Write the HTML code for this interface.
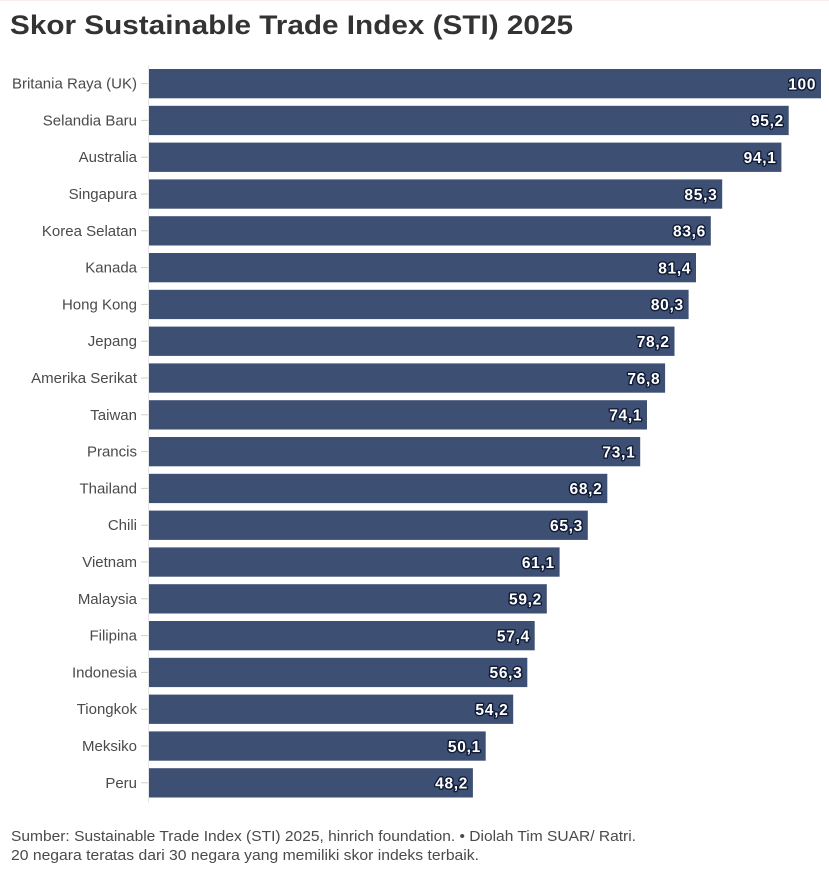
<!DOCTYPE html>
<html>
<head>
<meta charset="utf-8">
<style>
  html, body { margin:0; padding:0; background:#ffffff; }
  svg { display:block; }
  .cat { font-family:"Liberation Sans", sans-serif; font-size:15px; fill:#4a4a4a; text-anchor:end; }
  .val { font-family:"Liberation Sans", sans-serif; font-size:15.5px; font-weight:bold; letter-spacing:0.7px; fill:#ffffff; text-anchor:end; stroke:#101b36; stroke-width:2.8px; paint-order:stroke; stroke-linejoin:round; }
  .bar { fill:#3e4f74; }
  .tick { stroke:#d0d0d0; stroke-width:1; }
</style>
</head>
<body>
<svg width="829" height="871" viewBox="0 0 829 871" xmlns="http://www.w3.org/2000/svg">
  <rect x="0" y="0" width="829" height="871" fill="#ffffff"/>
  <rect x="0" y="0" width="829" height="1" fill="#fbeeec"/>
  <text x="10" y="34" font-family="Liberation Sans, sans-serif" font-size="27" font-weight="bold" fill="#333333" textLength="563" lengthAdjust="spacingAndGlyphs">Skor Sustainable Trade Index (STI) 2025</text>

  <line x1="148.5" y1="65" x2="148.5" y2="803" stroke="#e6e6e6" stroke-width="1"/>

  <!-- bars -->
  <rect class="bar" x="149" y="69.0" width="672" height="29.3"/>
  <rect class="bar" x="149" y="105.8" width="639.7" height="29.3"/>
  <rect class="bar" x="149" y="142.6" width="632.4" height="29.3"/>
  <rect class="bar" x="149" y="179.4" width="573.2" height="29.3"/>
  <rect class="bar" x="149" y="216.2" width="561.8" height="29.3"/>
  <rect class="bar" x="149" y="253.0" width="547" height="29.3"/>
  <rect class="bar" x="149" y="289.8" width="539.6" height="29.3"/>
  <rect class="bar" x="149" y="326.6" width="525.5" height="29.3"/>
  <rect class="bar" x="149" y="363.4" width="516.1" height="29.3"/>
  <rect class="bar" x="149" y="400.2" width="498" height="29.3"/>
  <rect class="bar" x="149" y="437.0" width="491.2" height="29.3"/>
  <rect class="bar" x="149" y="473.8" width="458.3" height="29.3"/>
  <rect class="bar" x="149" y="510.6" width="438.8" height="29.3"/>
  <rect class="bar" x="149" y="547.4" width="410.6" height="29.3"/>
  <rect class="bar" x="149" y="584.2" width="397.8" height="29.3"/>
  <rect class="bar" x="149" y="621.0" width="385.7" height="29.3"/>
  <rect class="bar" x="149" y="657.8" width="378.3" height="29.3"/>
  <rect class="bar" x="149" y="694.6" width="364.2" height="29.3"/>
  <rect class="bar" x="149" y="731.4" width="336.7" height="29.3"/>
  <rect class="bar" x="149" y="768.2" width="323.9" height="29.3"/>

  <!-- ticks -->
  <line class="tick" x1="141" x2="148" y1="83.6" y2="83.6"/>
  <line class="tick" x1="141" x2="148" y1="120.4" y2="120.4"/>
  <line class="tick" x1="141" x2="148" y1="157.2" y2="157.2"/>
  <line class="tick" x1="141" x2="148" y1="194.0" y2="194.0"/>
  <line class="tick" x1="141" x2="148" y1="230.8" y2="230.8"/>
  <line class="tick" x1="141" x2="148" y1="267.6" y2="267.6"/>
  <line class="tick" x1="141" x2="148" y1="304.4" y2="304.4"/>
  <line class="tick" x1="141" x2="148" y1="341.2" y2="341.2"/>
  <line class="tick" x1="141" x2="148" y1="378.0" y2="378.0"/>
  <line class="tick" x1="141" x2="148" y1="414.8" y2="414.8"/>
  <line class="tick" x1="141" x2="148" y1="451.6" y2="451.6"/>
  <line class="tick" x1="141" x2="148" y1="488.4" y2="488.4"/>
  <line class="tick" x1="141" x2="148" y1="525.2" y2="525.2"/>
  <line class="tick" x1="141" x2="148" y1="562.0" y2="562.0"/>
  <line class="tick" x1="141" x2="148" y1="598.8" y2="598.8"/>
  <line class="tick" x1="141" x2="148" y1="635.6" y2="635.6"/>
  <line class="tick" x1="141" x2="148" y1="672.4" y2="672.4"/>
  <line class="tick" x1="141" x2="148" y1="709.2" y2="709.2"/>
  <line class="tick" x1="141" x2="148" y1="746.0" y2="746.0"/>
  <line class="tick" x1="141" x2="148" y1="782.8" y2="782.8"/>

  <!-- category labels -->
  <text class="cat" x="137" y="88.6">Britania Raya (UK)</text>
  <text class="cat" x="137" y="125.4">Selandia Baru</text>
  <text class="cat" x="137" y="162.2">Australia</text>
  <text class="cat" x="137" y="199.0">Singapura</text>
  <text class="cat" x="137" y="235.8">Korea Selatan</text>
  <text class="cat" x="137" y="272.6">Kanada</text>
  <text class="cat" x="137" y="309.4">Hong Kong</text>
  <text class="cat" x="137" y="346.2">Jepang</text>
  <text class="cat" x="137" y="383.0">Amerika Serikat</text>
  <text class="cat" x="137" y="419.8">Taiwan</text>
  <text class="cat" x="137" y="456.6">Prancis</text>
  <text class="cat" x="137" y="493.4">Thailand</text>
  <text class="cat" x="137" y="530.2">Chili</text>
  <text class="cat" x="137" y="567.0">Vietnam</text>
  <text class="cat" x="137" y="603.8">Malaysia</text>
  <text class="cat" x="137" y="640.6">Filipina</text>
  <text class="cat" x="137" y="677.4">Indonesia</text>
  <text class="cat" x="137" y="714.2">Tiongkok</text>
  <text class="cat" x="137" y="751.0">Meksiko</text>
  <text class="cat" x="137" y="787.8">Peru</text>

  <!-- value labels -->
  <text class="val" x="816.2" y="89.4">100</text>
  <text class="val" x="783.9" y="126.2">95,2</text>
  <text class="val" x="776.6" y="163.0">94,1</text>
  <text class="val" x="717.4" y="199.8">85,3</text>
  <text class="val" x="706.0" y="236.6">83,6</text>
  <text class="val" x="691.2" y="273.4">81,4</text>
  <text class="val" x="683.8" y="310.2">80,3</text>
  <text class="val" x="669.7" y="347.0">78,2</text>
  <text class="val" x="660.3" y="383.8">76,8</text>
  <text class="val" x="642.2" y="420.6">74,1</text>
  <text class="val" x="635.4" y="457.4">73,1</text>
  <text class="val" x="602.5" y="494.2">68,2</text>
  <text class="val" x="583.0" y="531.0">65,3</text>
  <text class="val" x="554.8" y="567.8">61,1</text>
  <text class="val" x="542.0" y="604.6">59,2</text>
  <text class="val" x="529.9" y="641.4">57,4</text>
  <text class="val" x="522.5" y="678.2">56,3</text>
  <text class="val" x="508.4" y="715.0">54,2</text>
  <text class="val" x="480.9" y="751.8">50,1</text>
  <text class="val" x="468.1" y="788.6">48,2</text>

  <!-- footer -->
  <text x="11" y="841" font-family="Liberation Sans, sans-serif" font-size="15" fill="#4a4a4a" textLength="625" lengthAdjust="spacingAndGlyphs">Sumber: Sustainable Trade Index (STI) 2025, hinrich foundation. • Diolah Tim SUAR/ Ratri.</text>
  <text x="11" y="860" font-family="Liberation Sans, sans-serif" font-size="15" fill="#4a4a4a" textLength="468" lengthAdjust="spacingAndGlyphs">20 negara teratas dari 30 negara yang memiliki skor indeks terbaik.</text>
</svg>
</body>
</html>
